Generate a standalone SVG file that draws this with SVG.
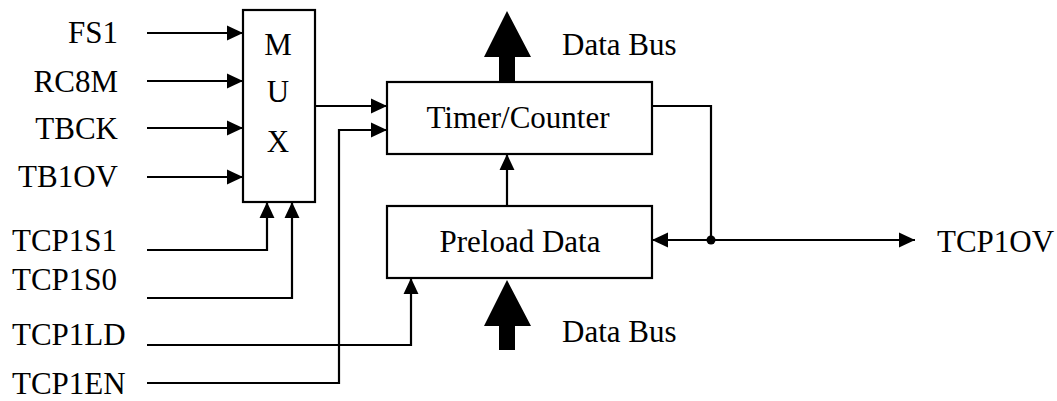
<svg xmlns="http://www.w3.org/2000/svg" width="1057" height="401" viewBox="0 0 1057 401">
<style>
.box{fill:#fff;stroke:#000;stroke-width:2.2}
.w{fill:none;stroke:#000;stroke-width:2.2}
.r{text-anchor:end}
.m{text-anchor:middle}
</style>
<defs>
<marker id="ah" markerUnits="userSpaceOnUse" markerWidth="16" markerHeight="16" viewBox="0 0 15 14" refX="15" refY="7" orient="auto">
<path d="M0,0 L15,7 L0,14 z" fill="#000"/>
</marker>
</defs>
<g font-family="Liberation Serif" font-size="31" fill="#000">
<g id="labels">
<text x="118" y="43" class="r">FS1</text>
<text x="118" y="92" class="r">RC8M</text>
<text x="118" y="139" class="r">TBCK</text>
<text x="118" y="187" class="r">TB1OV</text>
<text x="12" y="251">TCP1S1</text>
<text x="12" y="290">TCP1S0</text>
<text x="12" y="345">TCP1LD</text>
<text x="12" y="394">TCP1EN</text>
<text x="937" y="252">TCP1OV</text>
</g>
<g id="mux">
<rect class="box" x="243" y="10" width="72" height="192"/>
<text x="278" y="55" class="m">M</text>
<text x="278" y="102" class="m">U</text>
<text x="278" y="152" class="m">X</text>
</g>
<g id="timer">
<rect class="box" x="387" y="82" width="265" height="72"/>
<text x="518" y="128" class="m">Timer/Counter</text>
</g>
<g id="preload">
<rect class="box" x="387" y="206" width="265" height="72"/>
<text x="520" y="252" class="m">Preload Data</text>
</g>
<g id="databus-top">
<path d="M499,82 L499,57 L484,57 L507,11 L531,57 L515,57 L515,82 z" fill="#000"/>
<text x="562" y="55">Data Bus</text>
</g>
<g id="databus-bottom">
<path d="M499,350 L499,326 L484,326 L507,280 L531,326 L515,326 L515,350 z" fill="#000"/>
<text x="562" y="342">Data Bus</text>
</g>
</g>
<g id="connectors">
<path class="w" d="M147,33 L243,33" marker-end="url(#ah)"/>
<path class="w" d="M147,81 L243,81" marker-end="url(#ah)"/>
<path class="w" d="M147,128 L243,128" marker-end="url(#ah)"/>
<path class="w" d="M147,177 L243,177" marker-end="url(#ah)"/>
<path class="w" d="M147,250 L267,250 L267,202" marker-end="url(#ah)"/>
<path class="w" d="M147,298 L292,298 L292,202" marker-end="url(#ah)"/>
<path class="w" d="M147,345 L411,345 L411,278" marker-end="url(#ah)"/>
<path class="w" d="M147,383 L339,383 L339,130 L387,130" marker-end="url(#ah)"/>
<path class="w" d="M315,106 L387,106" marker-end="url(#ah)"/>
<path class="w" d="M507,206 L507,154" marker-end="url(#ah)"/>
<path class="w" d="M652,106 L711,106 L711,240"/>
<path class="w" d="M711,240 L652,240" marker-end="url(#ah)"/>
<path class="w" d="M711,240 L915,240" marker-end="url(#ah)"/>
<circle cx="711" cy="240" r="4.5" fill="#000"/>
</g>
</svg>
